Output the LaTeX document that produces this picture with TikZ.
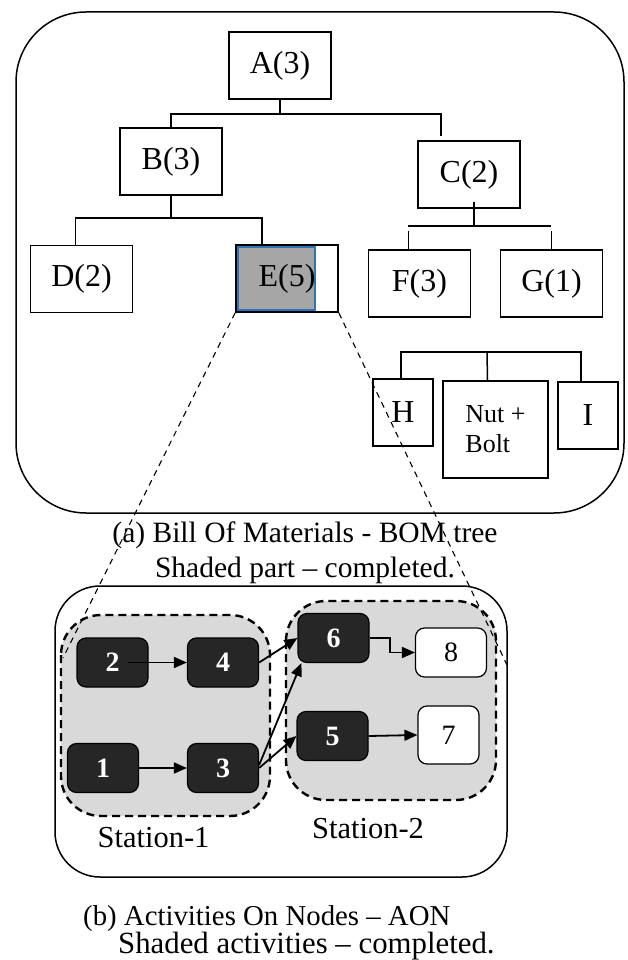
\documentclass[tikz,border=0pt]{standalone}
\usepackage{fontspec}
\setmainfont{Liberation Serif}
\usepackage{xcolor}
\usepackage{tikz}
\usetikzlibrary{arrows.meta}
\usetikzlibrary{positioning,calc}
\definecolor{actdark}{RGB}{38,38,38}
\definecolor{stationgray}{RGB}{217,217,217}
\definecolor{donegray}{RGB}{166,166,166}
\definecolor{doneblue}{RGB}{46,116,181}

\begin{document}
\begin{tikzpicture}[x=1pt,y=-1pt,
    part/.style={draw,line width=1.6pt,minimum width=102pt,minimum height=67pt,
                 inner sep=0pt,font=\fontsize{32}{36}\selectfont},
    link/.style={line width=1.5pt},
    act/.style={draw,line width=1.2pt,rounded corners=9pt,fill=actdark,text=white,
                minimum width=71pt,minimum height=49pt,inner sep=0pt,
                font=\fontsize{28}{30}\selectfont\bfseries},
    todo/.style={act,fill=white,text=black,font=\fontsize{28}{30}\selectfont},
    station/.style={draw,fill=stationgray,line width=2.4pt,
                    dash pattern=on 8pt off 5pt,rounded corners=40pt},
    flow/.style={line width=1.8pt,-{Triangle[length=13pt,width=11pt]}},
    zoomline/.style={line width=1.1pt,dash pattern=on 6pt off 5pt},
    caption/.style={font=\fontsize{29.5}{35}\selectfont,inner sep=0pt}]
    \useasboundingbox (0,0) rectangle (627,960);
    % BOM tree
    \node[part] (A) at (280,65.5) {A(3)};
    \node[part] (B) at (171,161.5) {B(3)};
    \node[part] (C) at (469,174.5) {C(2)};
    \node[part] (D) at (81.5,279) {D(2)};
    \node[part,path picture={\draw[fill=donegray,draw=doneblue,line width=2pt]
          ([shift={(2,2)}]path picture bounding box.north west) rectangle
          ([shift={(-23,-2)}]path picture bounding box.south east);}]
          (E) at (287,278.5) {E(5)};
    \node[part] (F) at (419.5,283.5) {F(3)};
    \node[part] (G) at (551.5,283.5) {G(1)};
    \node[part,minimum width=60pt] (H) at (403,412.5) {H};
    \node[part,minimum width=105pt,minimum height=97pt,align=left,
          font=\fontsize{26}{30}\selectfont] (nutbolt) at (495.5,429.5) {Nut +\\Bolt};
    \node[part,minimum width=60pt] (I) at (588,415.5) {I};
    % tree links
    \coordinate (abus) at (280,114);
    \coordinate (bbus) at (171,218);
    \coordinate (cbus) at (474,226);
    \coordinate (hbus) at (487,352);
    \draw[link] (A) -- (abus);
    \draw[link] (B.north) |- (abus) -| ([xshift=-28pt,yshift=4pt]C.north);
    \draw[link] (B) -- (bbus);
    \draw[link] ([xshift=-6pt]D.north) |- (bbus) -| ([xshift=-25pt]E.north);
    \draw[link] ([xshift=5pt,yshift=7pt]C.south) -- (cbus);
    \draw[link] ([xshift=-66pt]cbus) -- ([xshift=77pt]cbus);
    \draw[link] ([xshift=-11pt]F.north) -- ++(0,-18);
    \draw[link] (G.north) -- ++(0,-18);
    \draw[link] ([xshift=-2pt]H.north) |- (hbus) -| ([xshift=-7pt]I.north);
    \draw[link] ([xshift=-8pt]nutbolt.north) -- (hbus);
    \draw[line width=1.5pt,rounded corners=70pt] (16,12) rectangle (624,513);
    \node[caption,align=center] (capa) at (305,553)
          {(a) Bill Of Materials - BOM tree\\Shaded part – completed.};
    % AON network
    \draw[line width=1.5pt,rounded corners=45pt] (55,586) rectangle (507,877);
    \draw[station] (61,615) rectangle (270,816);
    \draw[station] (286,601) rectangle (496,800);
    \node[caption,font=\fontsize{30.5}{35}\selectfont,anchor=base] (st1) at (153.5,847) {Station-1};
    \node[caption,font=\fontsize{30.5}{35}\selectfont,anchor=base] (st2) at (368,838) {Station-2};
    \node[act] (n2) at (112.5,662.5) {2};
    \node[act] (n4) at (223,662.5) {4};
    \node[act] (n1) at (103,768) {1};
    \node[act] (n3) at (223,768) {3};
    \node[act] (n6) at (333.5,638) {6};
    \node[act] (n5) at (332.5,736) {5};
    \node[todo] (n8) at (451,652.5) {8};
    \node[todo,minimum width=61pt,minimum height=58pt] (n7) at (448.5,735) {7};
    \draw[flow] ([xshift=15pt]n2.center) -- (n4.west);
    \draw[flow] (n1.east) -- (n3.west);
    \draw[flow] (n4.east) -- (n6.west);
    \draw[flow] ([yshift=3pt]n3.east) -- ([xshift=4pt]n6.south west);
    \draw[flow] (n3.east) -- (n5.west);
    \draw[flow] (n6.east) -- ++(20,0) |- (n8.west);
    \draw[flow] (n5.east) -- (n7.west);
    % zoom of part E
    \coordinate (zl) at (63,658);
    \coordinate (zr) at (507,665);
    \draw[zoomline] (E.south west) -- (zl);
    \draw[zoomline] (E.south east) -- (zr);
    \node[caption,font=\fontsize{28.8}{33}\selectfont,anchor=base west] (capb1) at (83,925)
          {(b) Activities On Nodes – AON};
    \node[caption,font=\fontsize{30.8}{35}\selectfont,anchor=base west] (capb2) at (118,953)
          {Shaded activities – completed.};
\end{tikzpicture}
\end{document}
